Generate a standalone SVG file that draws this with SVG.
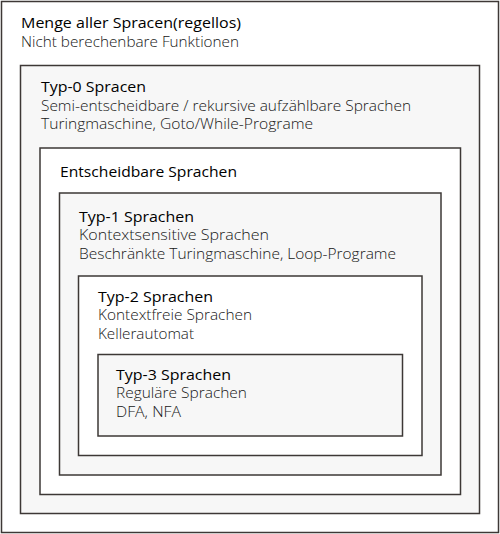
<svg xmlns="http://www.w3.org/2000/svg" width="500" height="534" viewBox="0 0 500 534">
  <style>
    .box { stroke: #3d3836; stroke-width: 1.5; }
    .white { fill: #ffffff; }
    .grey { fill: #f7f7f7; }
    text { font-family: "Open Sans", "Noto Sans", "Liberation Sans", sans-serif; font-size: 14.5px; fill: #000000; }
    .title { font-weight: 500; }
    .sub { font-weight: 350; fill: #161616; }
  </style>

  <!-- nested language classes, outermost first -->
  <g id="all-languages">
    <rect class="box white" x="1.5" y="1.5" width="497" height="531"/>
    <text class="title" x="21" y="28" textLength="220" lengthAdjust="spacingAndGlyphs">Menge aller Spracen(regellos)</text>
    <text class="sub" x="21" y="47" textLength="218" lengthAdjust="spacingAndGlyphs">Nicht berechenbare Funktionen</text>
  </g>

  <g id="type-0">
    <rect class="box grey" x="20.5" y="65.5" width="459" height="448"/>
    <text class="title" x="41" y="92" textLength="105" lengthAdjust="spacingAndGlyphs">Typ-0 Spracen</text>
    <text class="sub" x="41" y="111" textLength="370" lengthAdjust="spacingAndGlyphs">Semi-entscheidbare / rekursive aufzählbare Sprachen</text>
    <text class="sub" x="41" y="129" textLength="272" lengthAdjust="spacingAndGlyphs">Turingmaschine, Goto/While-Programe</text>
  </g>

  <g id="decidable">
    <rect class="box white" x="40" y="148" width="420.5" height="346.5"/>
    <text class="title" x="60" y="177" textLength="177" lengthAdjust="spacingAndGlyphs">Entscheidbare Sprachen</text>
  </g>

  <g id="type-1">
    <rect class="box grey" x="59.5" y="193" width="381.5" height="282"/>
    <text class="title" x="79" y="222" textLength="115" lengthAdjust="spacingAndGlyphs">Typ-1 Sprachen</text>
    <text class="sub" x="79" y="240" textLength="190" lengthAdjust="spacingAndGlyphs">Kontextsensitive Sprachen</text>
    <text class="sub" x="79" y="258.5" textLength="317" lengthAdjust="spacingAndGlyphs">Beschränkte Turingmaschine, Loop-Programe</text>
  </g>

  <g id="type-2">
    <rect class="box white" x="78.5" y="276" width="343.5" height="179.5"/>
    <text class="title" x="98" y="302" textLength="115" lengthAdjust="spacingAndGlyphs">Typ-2 Sprachen</text>
    <text class="sub" x="98" y="320" textLength="154" lengthAdjust="spacingAndGlyphs">Kontextfreie Sprachen</text>
    <text class="sub" x="98" y="338.5" textLength="96" lengthAdjust="spacingAndGlyphs">Kellerautomat</text>
  </g>

  <g id="type-3">
    <rect class="box grey" x="98" y="354.5" width="304.5" height="81.5"/>
    <text class="title" x="116" y="379.5" textLength="115" lengthAdjust="spacingAndGlyphs">Typ-3 Sprachen</text>
    <text class="sub" x="116" y="397.5" textLength="131" lengthAdjust="spacingAndGlyphs">Reguläre Sprachen</text>
    <text class="sub" x="116" y="416.5" textLength="65" lengthAdjust="spacingAndGlyphs">DFA, NFA</text>
  </g>
</svg>
